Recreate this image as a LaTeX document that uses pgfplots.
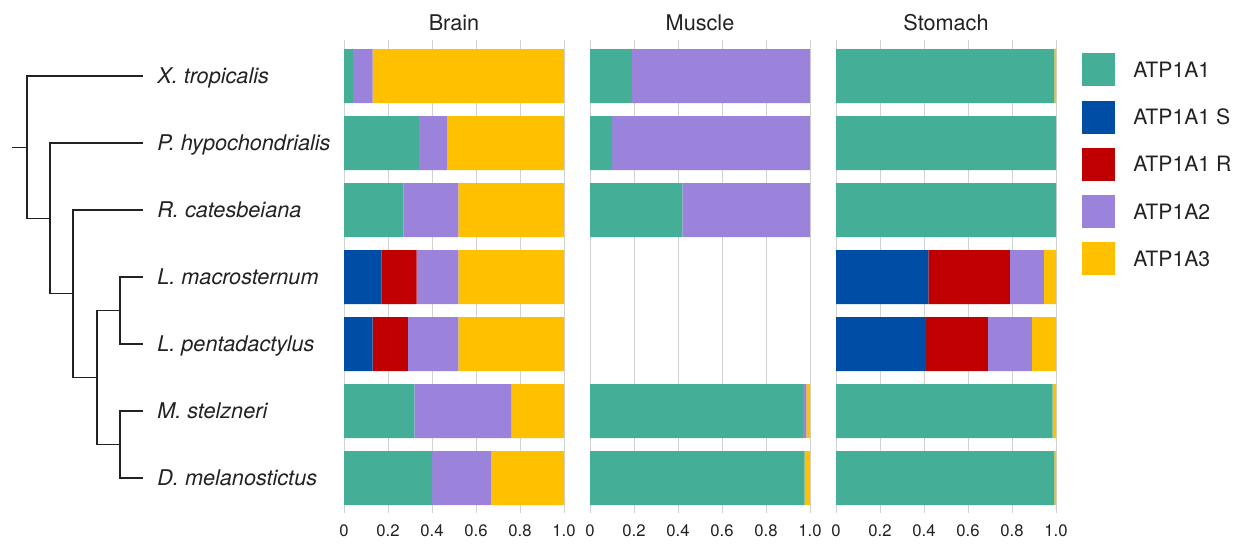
\documentclass[border=0pt]{standalone}
\usepackage{fontspec}
\setmainfont{TeX Gyre Heros}
\usepackage{pgfplots}
\pgfplotsset{compat=1.18}
\usepackage{pgfplotstable}
\definecolor{cA}{HTML}{45AE96}
\definecolor{cS}{HTML}{004DA6}
\definecolor{cR}{HTML}{C00000}
\definecolor{cB}{HTML}{9B83DC}
\definecolor{cC}{HTML}{FFC000}
\definecolor{txt}{HTML}{222222}
\definecolor{gridc}{HTML}{D2D2D2}

\pgfplotstableread{
y a1 s r a2 a3
6 0.04 0 0 0.09 0.87
5 0.34 0 0 0.13 0.53
4 0.27 0 0 0.25 0.48
3 0 0.17 0.16 0.19 0.48
2 0 0.13 0.16 0.23 0.48
1 0.32 0 0 0.44 0.24
0 0.40 0 0 0.27 0.33
}\brain

\pgfplotstableread{
y a1 s r a2 a3
6 0.19 0 0 0.81 0
5 0.10 0 0 0.90 0
4 0.42 0 0 0.58 0
3 0 0 0 0 0
2 0 0 0 0 0
1 0.968 0 0 0.016 0.016
0 0.975 0 0 0 0.025
}\muscle

\pgfplotstableread{
y a1 s r a2 a3
6 0.993 0 0 0 0.007
5 1 0 0 0 0
4 1 0 0 0 0
3 0 0.42 0.37 0.155 0.055
2 0 0.41 0.28 0.20 0.11
1 0.985 0 0 0 0.015
0 0.993 0 0 0 0.007
}\stomach

\pgfplotsset{
 panel/.style={
   scale only axis, width=132pt, height=283.8pt,
   xmin=0, xmax=1, ymin=-0.5224, ymax=6.5373,
   xbar stacked, bar width=0.806,
   xtick={0,0.2,0.4,0.6,0.8,1}, xticklabels={0,0.2,0.4,0.6,0.8,1.0},
   xmajorgrids, major grid style={draw=gridc, line width=0.6pt},
   axis line style={draw=none}, major tick length=0pt,
   ytick=\empty,
   xticklabel style={font=\fontsize{10}{12}\selectfont, text=txt, anchor=base, inner sep=0pt, yshift=-13.8pt},
   title style={font=\fontsize{13}{15}\selectfont, text=txt, at={(0.5,1)}, anchor=base, inner sep=0pt, yshift=-0.4pt},
   anchor=south west,
   /pgf/number format/assume math mode=true,
   legend image code/.code={\fill[##1] (0pt,-9.9pt) rectangle (19.8pt,9.9pt);},
 },
}

\begin{document}
\begin{tikzpicture}
\useasboundingbox (0,0) rectangle (748.2pt,327.6pt);

% dendrogram
\begin{axis}[at={(0pt,19.8pt)}, anchor=south west, scale only axis,
  width=90pt, height=283.8pt, xmin=0, xmax=150,
  ymin=-0.5224, ymax=6.5373, hide axis, clip=false]
\addplot[txt, line width=0.8pt] coordinates {(12,4.9375) (27,4.9375)};
\addplot[txt, line width=0.8pt] coordinates {(143,6) (27,6) (27,3.875) (50,3.875)};
\addplot[txt, line width=0.8pt] coordinates {(143,5) (50,5) (50,2.75) (73,2.75)};
\addplot[txt, line width=0.8pt] coordinates {(143,4) (73,4) (73,1.5) (97,1.5)};
\addplot[txt, line width=0.8pt] coordinates {(120,2.5) (97,2.5) (97,0.5) (120,0.5)};
\addplot[txt, line width=0.8pt] coordinates {(143,3) (120,3) (120,2) (143,2)};
\addplot[txt, line width=0.8pt] coordinates {(143,1) (120,1) (120,0) (143,0)};
\end{axis}

% Brain
\begin{axis}[panel, at={(206.4pt,19.8pt)}, title={Brain},
  ytick={0,1,2,3,4,5,6},
  yticklabels={D. melanostictus, M. stelzneri, L. pentadactylus, L. macrosternum, R. catesbeiana, P. hypochondrialis, X. tropicalis},
  yticklabel style={font=\fontsize{13}{15}\selectfont\itshape, text=txt, anchor=base west, inner sep=0pt, xshift=-112.2pt, yshift=-4.6pt}]
\addplot[fill=cA, draw=none] table[x=a1, y=y]{\brain};
\addplot[fill=cS, draw=none] table[x=s, y=y]{\brain};
\addplot[fill=cR, draw=none] table[x=r, y=y]{\brain};
\addplot[fill=cB, draw=none] table[x=a2, y=y]{\brain};
\addplot[fill=cC, draw=none] table[x=a3, y=y]{\brain};
\end{axis}

% Muscle
\begin{axis}[panel, at={(354pt,19.8pt)}, title={Muscle}]
\addplot[fill=cA, draw=none] table[x=a1, y=y]{\muscle};
\addplot[fill=cS, draw=none] table[x=s, y=y]{\muscle};
\addplot[fill=cR, draw=none] table[x=r, y=y]{\muscle};
\addplot[fill=cB, draw=none] table[x=a2, y=y]{\muscle};
\addplot[fill=cC, draw=none] table[x=a3, y=y]{\muscle};
\end{axis}

% Stomach
\begin{axis}[panel, at={(501.6pt,19.8pt)}, title={Stomach},
  legend cell align=left,
  legend style={at={(1.1182,0.9725)}, anchor=north west, draw=none, fill=none,
    inner sep=0pt, row sep=8.5pt, column sep=10.8pt,
    font=\fontsize{12.7}{15}\selectfont, text=txt,
    nodes={inner sep=0pt, text depth=0pt}}]
\addplot[fill=cA, draw=none] table[x=a1, y=y]{\stomach};
\addplot[fill=cS, draw=none] table[x=s, y=y]{\stomach};
\addplot[fill=cR, draw=none] table[x=r, y=y]{\stomach};
\addplot[fill=cB, draw=none] table[x=a2, y=y]{\stomach};
\addplot[fill=cC, draw=none] table[x=a3, y=y]{\stomach};
\legend{ATP1A1, ATP1A1 S, ATP1A1 R, ATP1A2, ATP1A3}
\end{axis}
\end{tikzpicture}
\end{document}
